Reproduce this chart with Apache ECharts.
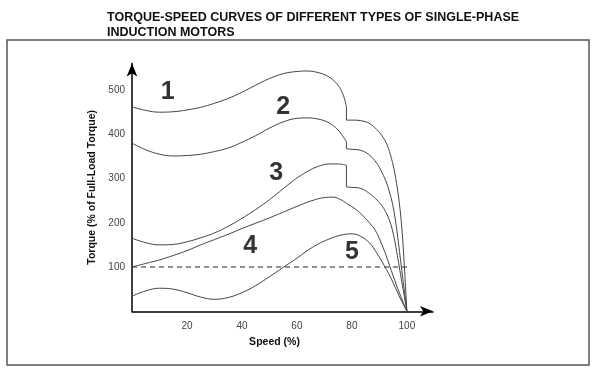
<!DOCTYPE html>
<html>
<head>
<meta charset="utf-8">
<script src="https://cdn.jsdelivr.net/npm/echarts@6/dist/echarts.min.js"></script>
<style>html,body{margin:0;padding:0;background:#fff;}#c{width:600px;height:371px;}</style>
</head>
<body>
<div id="c"></div>
<script>
var titleLines = ['TORQUE-SPEED CURVES OF DIFFERENT TYPES OF SINGLE-PHASE', 'INDUCTION MOTORS'];
var xAxisName = 'Speed (%)';
var yAxisName = 'Torque (% of Full-Load Torque)';
var xTickLabels = [20, 40, 60, 80, 100];
var yTickLabels = [100, 200, 300, 400, 500];
var fullLoad = [[0, 100], [100, 100]];

var curve1 = [[0,462],[5,454],[10,450],[15,451],[20,455],[25,461],[30,470],[35,481],[40,495],[45,511],[50,526],[55,537],[60,542],[64,543],[68,539],[71,532],[73.5,521],[75.5,506],[77,486],[78,462],[78,432],[80,432],[83,431],[86.5,424],[89,411],[91,396],[92.8,376],[94.4,345],[95.6,312],[96.8,266],[98,200],[99,110],[100,0]];
var curve2 = [[0,380],[5,365],[10,355],[15,351],[20,352],[25,355],[30,361],[35,369],[40,382],[45,397],[50,414],[55,428],[60,436],[64,437],[68,434],[71,428],[73.5,418],[75.5,406],[77,393],[78,383],[78,367],[80,366],[83,364],[86,355],[89,335],[91,313],[92.6,290],[94,262],[95,236],[96.2,190],[98,100],[100,0]];
var curve3 = [[0,165],[5,155],[10,150],[15,151],[20,157],[25,166],[30,177],[35,192],[40,210],[45,230],[50,252],[55,277],[60,301],[65,320],[69,330],[72,333],[75,333],[78,330],[78,281],[80,280],[83,278],[86,268],[88,258],[90.2,244],[92,228],[93.5,208],[94.7,184],[96,145],[98,72],[100,0]];
var curve4 = [[0,100],[5,108],[10,116],[15,126],[20,137],[25,150],[30,162],[35,174],[40,187],[45,199],[50,211],[55,224],[60,237],[65,249],[70,257],[73,258],[76,252],[78,244],[81.7,229],[84,216],[86.5,199],[88.4,184],[90.2,161],[92.5,125],[95,80],[97.5,38],[100,0]];
var curve5 = [[0,34],[5,46],[10,52],[15,50],[20,42],[25,32],[30,27],[35,31],[40,42],[45,58],[50,78],[55,99],[60,120],[66,146],[72,164],[76,172],[80,175],[83,170],[86.5,154],[89,132],[92.6,94],[94.5,71],[96.2,48],[98,24],[100,0]];
var curveNames = ['1', '2', '3', '4', '5'];
var curveLabelPos = [[13, 495], [55, 462], [52.5, 312], [43, 147], [80, 134]];

// split a curve wherever it has a vertical step (same speed, two torques)
function splitSteps(d) {
  var parts = [], cur = [d[0]];
  for (var i = 1; i < d.length; i++) {
    if (Math.abs(d[i][0] - d[i - 1][0]) < 0.01) {
      parts.push({ pts: cur, smooth: true });
      parts.push({ pts: [d[i - 1], d[i]], smooth: false });
      cur = [d[i]];
    } else {
      cur.push(d[i]);
    }
  }
  parts.push({ pts: cur, smooth: true });
  return parts;
}

var chart = echarts.init(document.getElementById('c'));
var curves = [curve1, curve2, curve3, curve4, curve5];
var series = [];
curves.forEach(function (d, i) {
  splitSteps(d).forEach(function (p) {
    series.push({
      type: 'line', name: curveNames[i], data: p.pts, showSymbol: false, symbol: 'none',
      smooth: p.smooth ? 0.4 : false,
      lineStyle: { color: '#444', width: 1 }, silent: true, z: 3
    });
  });
});
series.push({
  type: 'line', data: fullLoad, showSymbol: false, symbol: 'none',
  lineStyle: { color: '#222', width: 1, type: [5, 4] }, silent: true, z: 2
});
series.push({
  type: 'scatter', data: curveLabelPos.map(function (p, i) { return { value: p, label: { formatter: curveNames[i] } }; }),
  symbolSize: 0, silent: true,
  label: { show: true, position: 'inside', fontFamily: 'Liberation Sans, Arial, sans-serif', fontWeight: 'bold', fontSize: 25, color: '#000' }
});

chart.setOption({
  animation: false,
  backgroundColor: '#fff',
  graphic: [
    { type: 'rect', shape: { x: 7, y: 40, width: 582, height: 325 }, style: { fill: 'none', stroke: '#555', lineWidth: 1.5 }, z: 0 },
    { type: 'text', left: 107, top: 10, style: { text: titleLines.join('\n'), font: 'bold 12.5px "Liberation Sans", Arial, sans-serif', fill: '#111', lineHeight: 15 } }
  ],
  grid: { left: 132, top: 63.5, width: 301, height: 247.75, containLabel: false },
  xAxis: {
    type: 'value', min: 0, max: 109.5, interval: 20,
    name: xAxisName, nameLocation: 'middle', nameGap: 25,
    nameTextStyle: { fontFamily: 'Liberation Sans, Arial, sans-serif', fontWeight: 'bold', fontSize: 10.5, color: '#111', padding: [0, 16, 0, 0] },
    axisLine: { show: true, symbol: ['none', 'arrow'], symbolSize: [8, 13], lineStyle: { color: '#000', width: 1.5 } },
    axisTick: { show: false }, splitLine: { show: false },
    axisLabel: { margin: 10, fontFamily: 'Liberation Sans, Arial, sans-serif', fontSize: 10, color: '#444',
      formatter: function (v) { return xTickLabels.indexOf(v) >= 0 ? String(v) : ''; } }
  },
  yAxis: {
    type: 'value', min: 0, max: 560, interval: 100,
    name: yAxisName, nameLocation: 'middle', nameGap: 34,
    nameTextStyle: { fontFamily: 'Liberation Sans, Arial, sans-serif', fontWeight: 'bold', fontSize: 10.5, color: '#111' },
    axisLine: { show: true, symbol: ['none', 'arrow'], symbolSize: [8, 13], lineStyle: { color: '#000', width: 1.5 } },
    axisTick: { show: false }, splitLine: { show: false },
    axisLabel: { margin: 7, fontFamily: 'Liberation Sans, Arial, sans-serif', fontSize: 10, color: '#444',
      formatter: function (v) { return yTickLabels.indexOf(v) >= 0 ? String(v) : ''; } }
  },
  series: series
});
</script>
</body>
</html>
